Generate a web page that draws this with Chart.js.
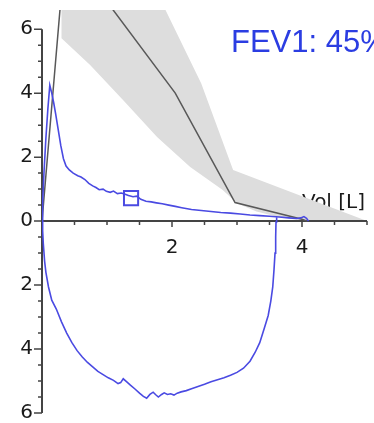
<!DOCTYPE html>
<html>
<head>
<meta charset="utf-8">
<script src="https://cdn.jsdelivr.net/npm/chart.js@4.4.1/dist/chart.umd.min.js"></script>
<style>
  html, body { margin: 0; padding: 0; background: #fff; }
</style>
</head>
<body>
<canvas id="loop" width="374" height="423"></canvas>
<script>
// expiratory limb (volume L, flow L/s)
const expVol = [0, 0.01, 0.03, 0.06, 0.09, 0.12, 0.15, 0.18, 0.21, 0.25, 0.29, 0.33, 0.37, 0.42, 0.48, 0.55, 0.6, 0.66, 0.72, 0.78,
  0.83, 0.88, 0.94, 0.99, 1.05, 1.1, 1.16, 1.22, 1.28, 1.33, 1.4, 1.46, 1.52, 1.6, 1.68, 1.76, 1.85, 1.95, 2.05, 2.15,
  2.3, 2.45, 2.6, 2.75, 2.9, 3.05, 3.2, 3.35, 3.5, 3.65, 3.8, 3.92, 3.98, 4.03, 4.07, 4.1];
const expFlow = [0, 0.6, 1.5, 2.6, 3.5, 4.25, 4.0, 3.7, 3.35, 2.85, 2.35, 1.95, 1.72, 1.6, 1.5, 1.42, 1.38, 1.3, 1.18, 1.1,
  1.05, 0.98, 1.0, 0.93, 0.9, 0.94, 0.86, 0.88, 0.84, 0.8, 0.76, 0.78, 0.68, 0.62, 0.6, 0.57, 0.54, 0.5, 0.46, 0.42,
  0.36, 0.33, 0.3, 0.27, 0.25, 0.22, 0.19, 0.17, 0.15, 0.13, 0.1, 0.08, 0.1, 0.14, 0.09, 0];

// inspiratory limb (plotted below zero)
const inspVol = [0, 0.01, 0.02, 0.04, 0.06, 0.1, 0.15, 0.22, 0.3, 0.38, 0.46, 0.54, 0.62, 0.7, 0.78, 0.86, 0.94, 1.02, 1.1, 1.17,
  1.21, 1.25, 1.3, 1.36, 1.43, 1.5, 1.56, 1.61, 1.66, 1.71, 1.75, 1.79, 1.84, 1.88, 1.93, 1.98, 2.03, 2.08, 2.14, 2.22,
  2.3, 2.4, 2.5, 2.6, 2.7, 2.8, 2.9, 3.0, 3.1, 3.2, 3.28, 3.35, 3.42, 3.48, 3.52, 3.55, 3.57, 3.585, 3.595, 3.6, 3.61];
const inspFlow = [0, -0.3, -0.7, -1.25, -1.6, -2.06, -2.47, -2.75, -3.15, -3.5, -3.8, -4.05, -4.25, -4.42, -4.56, -4.7, -4.8, -4.9, -4.98, -5.08,
  -5.05, -4.93, -5.02, -5.13, -5.25, -5.38, -5.48, -5.54, -5.42, -5.35, -5.43, -5.5, -5.42, -5.37, -5.42, -5.4, -5.44, -5.38, -5.34, -5.3,
  -5.24, -5.17, -5.1, -5.02, -4.96, -4.9, -4.82, -4.73, -4.6, -4.38, -4.1, -3.8, -3.35, -2.95, -2.5, -2.06, -1.5, -1.0, -0.5, -0.03, 0.12];

// predicted curve
const predVol = [0, 0.36, 2.05, 2.97, 4.0, 4.08];
const predFlow = [0, 8.6, 4.0, 0.58, 0.06, 0];

// normal range band (outline, lower edge then upper edge back)
const bandVol = [0.30, 0.30, 0.74, 1.25, 1.77, 2.28, 2.78, 3.0, 3.3, 3.7, 4.1, 5.0, 2.94, 2.45, 1.9, 1.78];
const bandFlow = [7.0, 5.72, 4.88, 3.78, 2.63, 1.69, 0.97, 0.56, 0.3, 0.1, 0.0, 0.0, 1.6, 4.3, 6.6, 7.0];

// FEV1 marker
const markVol = [1.37];
const markFlow = [0.72];

const xMajor = [2, 4];
const yMajor = [-6, -4, -2, 0, 2, 4, 6];

const blue = '#4a4ae2';
const axisColor = '#444';
const pts = (xs, ys) => xs.map((x, i) => ({ x: x, y: ys[i] }));

const extras = {
  id: 'extras',
  beforeDatasetsDraw(chart) {
    // axis title sits under the grey band, like the original
    const { ctx, scales: { x, y } } = chart;
    ctx.save();
    ctx.font = '20px "DejaVu Sans"';
    ctx.fillStyle = '#1a1a1a';
    ctx.textBaseline = 'alphabetic';
    ctx.fillText('Vol [L]', x.getPixelForValue(4.0), y.getPixelForValue(0.4));
    ctx.restore();
  },
  beforeDatasetDraw(chart, args) {
    if (args.index !== 3) return; // axes go above the band, below the curves
    const { ctx, scales: { x, y } } = chart;
    const x0 = x.getPixelForValue(0);
    const y0 = y.getPixelForValue(0);
    ctx.save();
    ctx.strokeStyle = axisColor;
    ctx.lineWidth = 2;
    ctx.beginPath();
    ctx.moveTo(x0, y.getPixelForValue(6));
    ctx.lineTo(x0, y.getPixelForValue(-6));
    ctx.moveTo(x0, y0);
    ctx.lineTo(x.getPixelForValue(5), y0);
    ctx.stroke();
    ctx.lineWidth = 1.5;
    ctx.beginPath();
    y.ticks.forEach(t => {
      const p = y.getPixelForValue(t.value);
      const len = yMajor.includes(t.value) ? 8 : 4;
      ctx.moveTo(x0 - len, p);
      ctx.lineTo(x0, p);
    });
    x.ticks.forEach(t => {
      if (t.value === 0) return;
      const p = x.getPixelForValue(t.value);
      const len = xMajor.includes(t.value) ? 6 : 4;
      ctx.moveTo(p, y0);
      ctx.lineTo(p, y0 + len);
    });
    ctx.stroke();
    ctx.restore();
  },
  afterDraw(chart) {
    const ctx = chart.ctx;
    ctx.save();
    ctx.font = '31px "Liberation Sans"';
    ctx.fillStyle = '#2b3de2';
    ctx.textBaseline = 'alphabetic';
    ctx.fillText('FEV1: 45%', 231, 52);
    ctx.restore();
  }
};

const tickFont = { family: 'DejaVu Sans', size: 20 };

new Chart(document.getElementById('loop'), {
  type: 'line',
  data: {
    datasets: [
      { data: pts(expVol, expFlow), borderColor: blue, borderWidth: 1.6, pointRadius: 0 },
      { data: pts(inspVol, inspFlow), borderColor: blue, borderWidth: 1.6, pointRadius: 0 },
      { data: pts(markVol, markFlow), showLine: false, pointStyle: 'rect', pointRadius: 10,
        borderColor: blue, borderWidth: 2, backgroundColor: 'rgba(0,0,0,0)' },
      { data: pts(predVol, predFlow), borderColor: '#585858', borderWidth: 1.5, pointRadius: 0 },
      { data: pts(bandVol, bandFlow), borderWidth: 0, borderColor: 'rgba(0,0,0,0)',
        backgroundColor: '#dddddd', fill: 'shape', pointRadius: 0 }
    ]
  },
  options: {
    responsive: false,
    animation: false,
    devicePixelRatio: 1,
    layout: { autoPadding: false, padding: { top: 10, bottom: 10, right: 7, left: 0 } },
    plugins: { legend: { display: false }, tooltip: { enabled: false } },
    scales: {
      x: {
        type: 'linear',
        min: 0,
        max: 5,
        position: { y: 0 },
        grid: { display: false, drawTicks: false },
        border: { display: false },
        afterFit: s => { s.paddingLeft = 0; s.paddingRight = 0; },
        ticks: {
          stepSize: 0.5,
          autoSkip: false,
          maxRotation: 0,
          padding: 15,
          color: '#1a1a1a',
          font: tickFont,
          callback: v => xMajor.includes(v) ? String(v) : ''
        }
      },
      y: {
        type: 'linear',
        min: -6,
        max: 6.6,
        position: 'left',
        grid: { display: false, drawTicks: false },
        border: { display: false },
        afterBuildTicks: s => {
          const t = [];
          for (let v = -6; v <= 6; v += 0.5) t.push({ value: v });
          s.ticks = t;
        },
        afterFit: s => { s.width = 42; s.paddingTop = 0; s.paddingBottom = 0; },
        ticks: {
          autoSkip: false,
          padding: 9,
          color: '#1a1a1a',
          font: tickFont,
          callback: v => yMajor.includes(v) ? String(Math.abs(v)) : ''
        }
      }
    }
  },
  plugins: [extras]
});
</script>
</body>
</html>
